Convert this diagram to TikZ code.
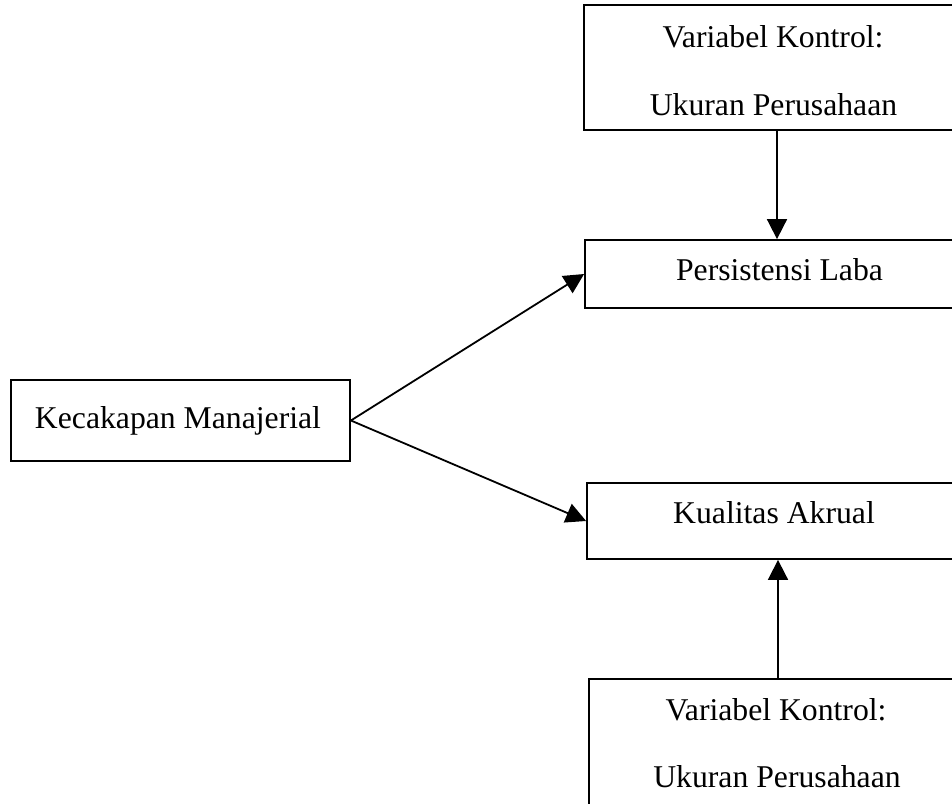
\documentclass[tikz,border=0pt]{standalone}
\usepackage{fontspec}
\setmainfont{Liberation Serif}
\usetikzlibrary{arrows.meta}
\begin{document}
\begin{tikzpicture}[x=1pt,y=-1pt,
  box/.style={draw,line width=1.8pt,inner sep=0pt,anchor=center},
  lbl/.style={anchor=base,inner sep=0pt,font=\fontsize{31.7}{38}\selectfont},
  arr/.style={line width=1.8pt,-{Triangle[length=20pt,width=20pt]}}]
\clip (0,0) rectangle (952,803);
\fill[white] (0,0) rectangle (952,803);
% boxes
\node[box,minimum width=386pt,minimum height=125pt] (ctrlA) at (777,67.5) {};
\node[box,minimum width=385pt,minimum height=68pt] (pers) at (777.5,274) {};
\node[box,minimum width=339pt,minimum height=81pt] (kec) at (180.5,420.5) {};
\node[box,minimum width=383pt,minimum height=76pt] (kual) at (778.5,521) {};
\node[box,minimum width=381pt,minimum height=151pt] (ctrlB) at (779.5,754.5) {};
% labels
\node[lbl] (tA1) at (773,47) {Variabel Kontrol:};
\node[lbl] (tA2) at (773.5,115) {Ukuran Perusahaan};
\node[lbl] (tP) at (779.5,280) {Persistensi Laba};
\node[lbl] (tK) at (178,428) {Kecakapan Manajerial};
\node[lbl] (tQ) at (774,523) {Kualitas Akrual};
\node[lbl] (tB1) at (776,720) {Variabel Kontrol:};
\node[lbl] (tB2) at (777,787) {Ukuran Perusahaan};
% connectors
\draw[arr] (ctrlA.south) -- (ctrlA.south |- pers.north);
\draw[arr] (kec.east) -- (pers.west);
\draw[arr] (kec.east) -- (kual.west);
\draw[arr] (ctrlB.north -| 778,0) -- (kual.south -| 778,0);
\end{tikzpicture}
\end{document}
